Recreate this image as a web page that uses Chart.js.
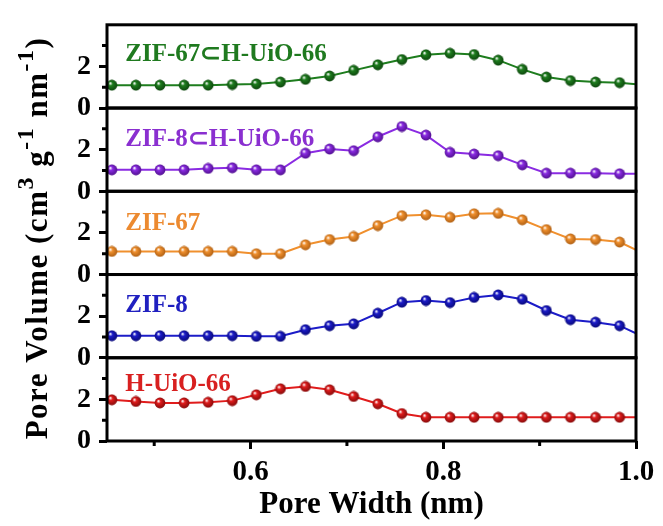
<!DOCTYPE html>
<html>
<head>
<meta charset="utf-8">
<script src="https://cdn.jsdelivr.net/npm/chart.js@4.4.0/dist/chart.umd.min.js"></script>
<style>
  body { margin: 0; background: #fff; }
  canvas { display: block; }
</style>
</head>
<body>
<canvas id="poreChart" width="663" height="526"></canvas>
<script>
// pore width (nm), shared by every panel
const poreWidth = [0.456, 0.481, 0.506, 0.531, 0.556, 0.581, 0.606, 0.631, 0.657, 0.682, 0.707, 0.732,
  0.757, 0.782, 0.807, 0.832, 0.857, 0.882, 0.907, 0.932, 0.958, 0.983, 1.008];

// pore volume (cm3 g-1 nm-1), top panel first
const zif67InUio = [1.10, 1.10, 1.10, 1.10, 1.10, 1.13, 1.16, 1.25, 1.38, 1.54, 1.81, 2.08,
  2.33, 2.56, 2.63, 2.57, 2.30, 1.86, 1.49, 1.32, 1.25, 1.22, 1.10];
const zif8InUio = [1.03, 1.03, 1.03, 1.03, 1.10, 1.13, 1.03, 1.03, 1.83, 2.03, 1.95, 2.62,
  3.11, 2.70, 1.87, 1.79, 1.71, 1.27, 0.87, 0.87, 0.87, 0.84, 0.84];
const zif67 = [1.11, 1.11, 1.11, 1.11, 1.11, 1.11, 1.00, 1.00, 1.43, 1.68, 1.83, 2.35,
  2.83, 2.87, 2.75, 2.92, 2.94, 2.63, 2.16, 1.71, 1.68, 1.56, 1.00];
const zif8 = [1.06, 1.06, 1.06, 1.06, 1.06, 1.06, 1.03, 1.03, 1.35, 1.54, 1.63, 2.14,
  2.67, 2.75, 2.65, 2.90, 3.02, 2.81, 2.27, 1.83, 1.71, 1.54, 1.00];
const hUio = [1.98, 1.90, 1.83, 1.83, 1.86, 1.94, 2.22, 2.51, 2.62, 2.46, 2.14, 1.79,
  1.32, 1.14, 1.14, 1.14, 1.14, 1.14, 1.14, 1.14, 1.14, 1.14, 1.14];

const seriesNames = ["ZIF-67\u2282H-UiO-66", "ZIF-8\u2282H-UiO-66", "ZIF-67", "ZIF-8", "H-UiO-66"];
const seriesData = [zif67InUio, zif8InUio, zif67, zif8, hUio];
const seriesColors = ["#1e7d1e", "#8a2be2", "#f0902e", "#1c1cc8", "#e01c1c"];
const ballShades = ["#0b400b", "#4a0d86", "#a85a10", "#060670", "#7a0808"];
const textColors = ["#1f7a1f", "#8a2fd0", "#ec8a30", "#2020c0", "#d82020"];

// where the panel names sit (data units)
const labelX = 0.470;
const labelY = [2.57, 2.48, 2.43, 2.52, 2.71];

const xMin = 0.451, xMax = 1.0;
const xMajorTicks = [0.6, 0.8, 1.0];
const xMinorTicks = [0.5, 0.7, 0.9];
const yMax = 4;
const yMajorTicks = [0, 2];
const yMinorTicks = [1, 3];

const serif = "'Liberation Serif', 'Times New Roman', serif";

// little shaded ball for the markers
function makeBall(color, shade) {
  const c = document.createElement("canvas");
  c.width = 12; c.height = 12;
  const g = c.getContext("2d");
  const grad = g.createRadialGradient(4.3, 4.0, 0.3, 6, 6, 6);
  grad.addColorStop(0, "#ffffff");
  grad.addColorStop(0.3, color);
  grad.addColorStop(1, shade);
  g.fillStyle = grad;
  g.beginPath();
  g.arc(6, 6, 5.4, 0, Math.PI * 2);
  g.fill();
  return c;
}

const panelIds = seriesNames.map((n, i) => "y" + i);

const datasets = seriesData.map((vals, i) => ({
  label: seriesNames[i],
  data: vals.map((v, j) => ({ x: poreWidth[j], y: v })),
  yAxisID: panelIds[i],
  borderColor: seriesColors[i],
  borderWidth: 2,
  pointStyle: makeBall(seriesColors[i], ballShades[i]),
  pointRadius: 6,
  tension: 0
}));

const scales = {
  x: {
    type: "linear",
    min: xMin,
    max: xMax,
    afterBuildTicks: s => { s.ticks = xMinorTicks.concat(xMajorTicks).sort().map(v => ({ value: v })); },
    afterFit: s => { s.height = 85; },
    border: { display: false },
    grid: {
      drawOnChartArea: false,
      tickLength: 8,
      tickWidth: 3,
      tickColor: ctx => xMajorTicks.some(v => Math.abs(v - ctx.tick.value) < 1e-6) ? "#000" : "rgba(0,0,0,0)"
    },
    ticks: {
      color: "#000",
      padding: 6,
      maxRotation: 0,
      font: { family: serif, size: 29, weight: "bold" },
      callback: v => xMajorTicks.some(t => Math.abs(t - v) < 1e-6) ? v.toFixed(1) : ""
    },
    title: {
      display: true,
      text: "Pore Width (nm)",
      color: "#000",
      padding: { top: 0, bottom: 2 },
      font: { family: serif, size: 31, weight: "bold" }
    }
  }
};

// stacked panels: the first series goes on top
panelIds.forEach((id, i) => {
  scales[id] = {
    type: "linear",
    position: "left",
    stack: "panels",
    stackWeight: 1,
    weight: panelIds.length - 1 - i,
    min: 0,
    max: yMax,
    afterBuildTicks: s => { s.ticks = yMajorTicks.map(v => ({ value: v })); },
    afterFit: s => { s.width = 107; },
    border: { display: false },
    grid: { drawOnChartArea: false, tickLength: 8, tickWidth: 3, tickColor: "#000" },
    ticks: {
      color: "#000",
      padding: 8,
      font: { family: serif, size: 28, weight: "bold" },
      callback: v => String(v)
    }
  };
});

// frames, minor ticks, panel names and the y title
const panelDecor = {
  id: "panelDecor",
  afterDatasetsDraw(chart) {
    const ctx = chart.ctx;
    const area = chart.chartArea;
    const xs = chart.scales.x;
    ctx.save();
    ctx.strokeStyle = "#000";
    ctx.lineWidth = 3;
    panelIds.forEach(id => {
      const s = chart.scales[id];
      ctx.strokeRect(area.left, s.top, area.right - area.left, s.bottom - s.top);
      ctx.beginPath();
      yMinorTicks.forEach(v => {
        const py = s.getPixelForValue(v);
        ctx.moveTo(area.left - 5, py);
        ctx.lineTo(area.left, py);
      });
      ctx.stroke();
    });
    ctx.beginPath();
    xMinorTicks.forEach(v => {
      const px = xs.getPixelForValue(v);
      ctx.moveTo(px, area.bottom);
      ctx.lineTo(px, area.bottom + 5);
    });
    ctx.stroke();

    ctx.font = "bold 25px " + serif;
    ctx.textAlign = "left";
    ctx.textBaseline = "middle";
    seriesNames.forEach((name, i) => {
      const s = chart.scales[panelIds[i]];
      ctx.fillStyle = textColors[i];
      ctx.fillText(name, xs.getPixelForValue(labelX), s.getPixelForValue(labelY[i]));
    });
    ctx.restore();
  },
  afterDraw(chart) {
    const ctx = chart.ctx;
    const parts = [
      ["Pore Volume (cm", false], ["3", true], [" g", false], ["-1", true],
      [" nm", false], ["-1", true], [")", false]
    ];
    const mainFont = "bold 31px " + serif;
    const supFont = "bold 24px " + serif;
    ctx.save();
    ctx.letterSpacing = "1.5px";
    let total = 0;
    parts.forEach(p => { ctx.font = p[1] ? supFont : mainFont; total += ctx.measureText(p[0]).width; });
    ctx.translate(47, 238);
    ctx.rotate(-Math.PI / 2);
    ctx.fillStyle = "#000";
    ctx.textBaseline = "alphabetic";
    let x = -total / 2;
    parts.forEach(p => {
      ctx.font = p[1] ? supFont : mainFont;
      ctx.fillText(p[0], x, p[1] ? -14 : 0);
      x += ctx.measureText(p[0]).width;
    });
    ctx.restore();
  }
};

new Chart(document.getElementById("poreChart").getContext("2d"), {
  type: "line",
  data: { datasets },
  options: {
    responsive: false,
    animation: false,
    layout: { padding: { left: 0, right: 27, top: 16, bottom: 0 } },
    plugins: { legend: { display: false }, tooltip: { enabled: false } },
    scales
  },
  plugins: [panelDecor]
});
</script>
</body>
</html>
